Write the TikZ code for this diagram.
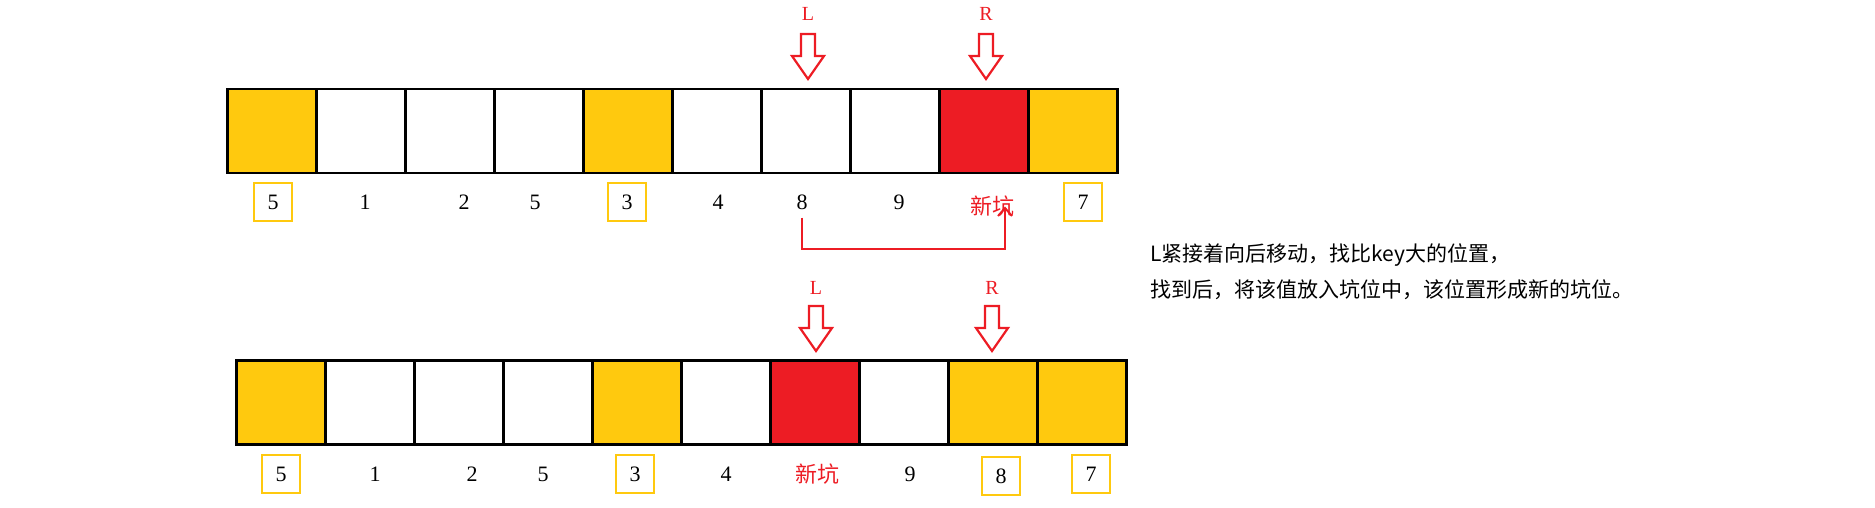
\documentclass[tikz,border=0pt]{standalone}
\usepackage{fontspec}
\usetikzlibrary{arrows.meta}
\setmainfont{Liberation Serif}
\newfontfamily\cjk{Noto Sans CJK SC}
\begin{document}
\begin{tikzpicture}[x=1pt,y=-1pt,
  cellbox/.style={draw=black,line width=2.5pt,minimum width=89pt,minimum height=84pt,inner sep=0pt,anchor=north west},
  yel/.style={cellbox,fill=myyellow},
  redc/.style={cellbox,fill=myred},
  wht/.style={cellbox,fill=white},
  lab/.style={font=\fontsize{22}{26}\selectfont,inner sep=0pt},
  blab/.style={lab,draw=myyellow,line width=2pt,minimum width=38pt,minimum height=38pt},
  rlab/.style={lab,text=myred,font=\fontsize{22}{26}\selectfont\cjk},
  ptr/.style={text=myred,font=\fontsize{20}{24}\selectfont},
  hol/.style={draw=myred,line width=2.2pt,fill=white}]
\definecolor{myyellow}{HTML}{FFC90E}
\definecolor{myred}{HTML}{ED1C24}
\useasboundingbox (0,0) rectangle (1875,508);
% arrays
\foreach \i/\s in {0/yel,1/wht,2/wht,3/wht,4/yel,5/wht,6/wht,7/wht,8/redc,9/yel}
  \node[\s] (t\i) at ({226+89*\i},88) {};
\foreach \i/\s in {0/yel,1/wht,2/wht,3/wht,4/yel,5/wht,6/redc,7/wht,8/yel,9/yel}
  \node[\s] (b\i) at ({235+89*\i},359) {};
% top labels
\node[blab] (tl0) at (273,202) {5};
\node[lab] (tl1) at (365,202) {1};
\node[lab] (tl2) at (464,202) {2};
\node[lab] (tl3) at (535,202) {5};
\node[blab] (tl4) at (627,202) {3};
\node[lab] (tl5) at (718,202) {4};
\node[lab] (tl6) at (802,202) {8};
\node[lab] (tl7) at (899,202) {9};
\node[rlab] (tl8) at (992,206) {新坑};
\node[blab] (tl9) at (1083,202) {7};
% bottom labels
\node[blab] (bl0) at (281,474) {5};
\node[lab] (bl1) at (375,474) {1};
\node[lab] (bl2) at (472,474) {2};
\node[lab] (bl3) at (543,474) {5};
\node[blab] (bl4) at (635,474) {3};
\node[lab] (bl5) at (726,474) {4};
\node[rlab] (bl6) at (817,474) {新坑};
\node[lab] (bl7) at (910,474) {9};
\node[blab] (bl8) at (1001,476) {8};
\node[blab] (bl9) at (1091,474) {7};
% pointers
\foreach \n/\t/\x/\ty/\ay in {pL1/L/808/14/34, pR1/R/986/14/34, pL2/L/816/288/306, pR2/R/992/288/306}{
  \node[ptr] (\n) at (\x,\ty) {\t};
  \draw[hol] (\x-7,\ay) -- (\x+7,\ay) -- (\x+7,\ay+22) -- (\x+16,\ay+22) -- (\x,\ay+45) -- (\x-16,\ay+22) -- (\x-7,\ay+22) -- cycle;
}
% connector
\coordinate (c1) at (802,249);
\coordinate (c2) at (1005,249);
\draw[myred,line width=2pt,-{Straight Barb[length=8pt,width=14pt]}] (tl6.south) ++(0,8) |- (c1) -- (c2) -- ([xshift=13pt,yshift=10pt]tl8.south);
% note
\node[anchor=north west,align=left,font=\fontsize{21}{36}\selectfont\cjk,inner sep=0pt] (note) at (1150,244)
  {L紧接着向后移动，找比key大的位置，\\找到后，将该值放入坑位中，该位置形成新的坑位。};
\end{tikzpicture}
\end{document}
